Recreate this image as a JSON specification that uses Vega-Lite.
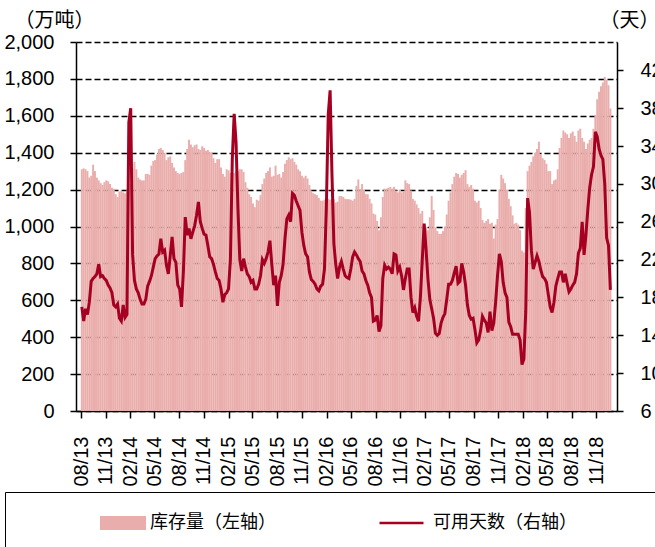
{
 "$schema": "https://vega.github.io/schema/vega-lite/v6.json",
 "width": 541, "height": 369,
 "autosize": {"type": "none"},
 "padding": {"left": 76, "top": 42, "right": 38, "bottom": 136},
 "background": "white",
 "config": {"view": {"stroke": null}, "font": "Liberation Sans"},
 "data": {"values": [
{"date":"2013-08-04","stock":1310,"days":17.0},{"date":"2013-08-11","stock":1315,"days":15.5},{"date":"2013-08-18","stock":1310,"days":16.8},{"date":"2013-08-25","stock":1300,"days":16.2},
{"date":"2013-09-01","stock":1265,"days":17.5},{"date":"2013-09-08","stock":1275,"days":19.7},{"date":"2013-09-15","stock":1335,"days":20.0},{"date":"2013-09-22","stock":1300,"days":20.2},{"date":"2013-09-29","stock":1265,"days":20.5},
{"date":"2013-10-06","stock":1250,"days":21.5},{"date":"2013-10-13","stock":1235,"days":20.2},{"date":"2013-10-20","stock":1225,"days":20.3},{"date":"2013-10-27","stock":1240,"days":20.0},
{"date":"2013-11-03","stock":1250,"days":19.8},{"date":"2013-11-10","stock":1245,"days":19.3},{"date":"2013-11-17","stock":1230,"days":19.0},{"date":"2013-11-24","stock":1210,"days":18.5},
{"date":"2013-12-01","stock":1205,"days":17.2},{"date":"2013-12-08","stock":1175,"days":17.0},{"date":"2013-12-15","stock":1160,"days":17.3},{"date":"2013-12-22","stock":1190,"days":15.8},{"date":"2013-12-29","stock":1195,"days":15.5},
{"date":"2014-01-05","stock":1185,"days":17.2},{"date":"2014-01-12","stock":1180,"days":15.9},{"date":"2014-01-19","stock":1195,"days":16.2},{"date":"2014-01-26","stock":1200,"days":36.5},
{"date":"2014-02-02","stock":1230,"days":38.0},{"date":"2014-02-09","stock":1310,"days":22.5},{"date":"2014-02-16","stock":1350,"days":19.8},{"date":"2014-02-23","stock":1310,"days":18.9},
{"date":"2014-03-02","stock":1265,"days":18.5},{"date":"2014-03-09","stock":1255,"days":17.8},{"date":"2014-03-16","stock":1250,"days":17.3},{"date":"2014-03-23","stock":1250,"days":17.3},{"date":"2014-03-30","stock":1285,"days":17.8},
{"date":"2014-04-06","stock":1285,"days":19.2},{"date":"2014-04-13","stock":1280,"days":19.7},{"date":"2014-04-20","stock":1330,"days":20.3},{"date":"2014-04-27","stock":1355,"days":21.2},
{"date":"2014-05-04","stock":1360,"days":22.1},{"date":"2014-05-11","stock":1390,"days":22.4},{"date":"2014-05-18","stock":1420,"days":22.6},{"date":"2014-05-25","stock":1425,"days":24.2},
{"date":"2014-06-01","stock":1415,"days":22.8},{"date":"2014-06-08","stock":1400,"days":23.0},{"date":"2014-06-15","stock":1360,"days":21.4},{"date":"2014-06-22","stock":1375,"days":20.5},{"date":"2014-06-29","stock":1380,"days":22.4},
{"date":"2014-07-06","stock":1345,"days":24.4},{"date":"2014-07-13","stock":1320,"days":22.1},{"date":"2014-07-20","stock":1300,"days":21.7},{"date":"2014-07-27","stock":1290,"days":19.3},
{"date":"2014-08-03","stock":1285,"days":18.9},{"date":"2014-08-10","stock":1290,"days":17.0},{"date":"2014-08-17","stock":1295,"days":20.7},{"date":"2014-08-24","stock":1360,"days":26.5},{"date":"2014-08-31","stock":1420,"days":24.6},
{"date":"2014-09-07","stock":1470,"days":25.3},{"date":"2014-09-14","stock":1445,"days":24.2},{"date":"2014-09-21","stock":1430,"days":24.9},{"date":"2014-09-28","stock":1440,"days":25.6},
{"date":"2014-10-05","stock":1445,"days":26.7},{"date":"2014-10-12","stock":1420,"days":28.1},{"date":"2014-10-19","stock":1415,"days":26.0},{"date":"2014-10-26","stock":1435,"days":25.3},
{"date":"2014-11-02","stock":1425,"days":24.7},{"date":"2014-11-09","stock":1410,"days":24.6},{"date":"2014-11-16","stock":1415,"days":23.5},{"date":"2014-11-23","stock":1405,"days":22.3},{"date":"2014-11-30","stock":1400,"days":22.1},
{"date":"2014-12-07","stock":1370,"days":21.5},{"date":"2014-12-14","stock":1345,"days":20.7},{"date":"2014-12-21","stock":1365,"days":20.0},{"date":"2014-12-28","stock":1365,"days":19.8},
{"date":"2015-01-04","stock":1320,"days":18.9},{"date":"2015-01-11","stock":1285,"days":17.5},{"date":"2015-01-18","stock":1270,"days":18.3},{"date":"2015-01-25","stock":1310,"days":18.5},
{"date":"2015-02-01","stock":1305,"days":18.9},{"date":"2015-02-08","stock":1290,"days":22.0},{"date":"2015-02-15","stock":1280,"days":32.6},{"date":"2015-02-22","stock":1290,"days":37.4},
{"date":"2015-03-01","stock":1300,"days":34.4},{"date":"2015-03-08","stock":1300,"days":27.4},{"date":"2015-03-15","stock":1310,"days":22.0},{"date":"2015-03-22","stock":1310,"days":20.8},{"date":"2015-03-29","stock":1295,"days":22.1},
{"date":"2015-04-05","stock":1240,"days":21.2},{"date":"2015-04-12","stock":1210,"days":20.5},{"date":"2015-04-19","stock":1175,"days":20.2},{"date":"2015-04-26","stock":1160,"days":19.6},
{"date":"2015-05-03","stock":1125,"days":19.8},{"date":"2015-05-10","stock":1105,"days":18.9},{"date":"2015-05-17","stock":1145,"days":18.9},{"date":"2015-05-24","stock":1140,"days":19.4},{"date":"2015-05-31","stock":1170,"days":20.3},
{"date":"2015-06-07","stock":1230,"days":22.0},{"date":"2015-06-14","stock":1260,"days":21.6},{"date":"2015-06-21","stock":1290,"days":22.1},{"date":"2015-06-28","stock":1300,"days":22.8},
{"date":"2015-07-05","stock":1320,"days":24.0},{"date":"2015-07-12","stock":1270,"days":21.5},{"date":"2015-07-19","stock":1275,"days":19.3},{"date":"2015-07-26","stock":1330,"days":20.3},
{"date":"2015-08-02","stock":1280,"days":17.1},{"date":"2015-08-09","stock":1285,"days":19.6},{"date":"2015-08-16","stock":1265,"days":20.3},{"date":"2015-08-23","stock":1295,"days":21.5},{"date":"2015-08-30","stock":1340,"days":24.2},
{"date":"2015-09-06","stock":1360,"days":26.3},{"date":"2015-09-13","stock":1375,"days":26.7},{"date":"2015-09-20","stock":1365,"days":26.0},{"date":"2015-09-27","stock":1370,"days":29.0},
{"date":"2015-10-04","stock":1350,"days":28.8},{"date":"2015-10-11","stock":1335,"days":28.2},{"date":"2015-10-18","stock":1310,"days":27.7},{"date":"2015-10-25","stock":1300,"days":27.2},
{"date":"2015-11-01","stock":1275,"days":24.9},{"date":"2015-11-08","stock":1265,"days":23.5},{"date":"2015-11-15","stock":1275,"days":22.6},{"date":"2015-11-22","stock":1260,"days":22.3},{"date":"2015-11-29","stock":1225,"days":20.7},
{"date":"2015-12-06","stock":1195,"days":19.9},{"date":"2015-12-13","stock":1180,"days":19.7},{"date":"2015-12-20","stock":1175,"days":19.4},{"date":"2015-12-27","stock":1170,"days":18.9},
{"date":"2016-01-03","stock":1155,"days":18.7},{"date":"2016-01-10","stock":1140,"days":19.2},{"date":"2016-01-17","stock":1140,"days":19.4},{"date":"2016-01-24","stock":1145,"days":21.0},{"date":"2016-01-31","stock":1150,"days":27.4},
{"date":"2016-02-07","stock":1150,"days":37.3},{"date":"2016-02-14","stock":1145,"days":39.9},{"date":"2016-02-21","stock":1150,"days":30.9},{"date":"2016-02-28","stock":1148,"days":23.7},
{"date":"2016-03-06","stock":1130,"days":21.5},{"date":"2016-03-13","stock":1135,"days":20.0},{"date":"2016-03-20","stock":1165,"days":21.2},{"date":"2016-03-27","stock":1165,"days":21.8},
{"date":"2016-04-03","stock":1160,"days":21.0},{"date":"2016-04-10","stock":1150,"days":20.3},{"date":"2016-04-17","stock":1148,"days":20.1},{"date":"2016-04-24","stock":1148,"days":20.0},
{"date":"2016-05-01","stock":1145,"days":21.0},{"date":"2016-05-08","stock":1140,"days":22.3},{"date":"2016-05-15","stock":1150,"days":22.8},{"date":"2016-05-22","stock":1220,"days":22.5},{"date":"2016-05-29","stock":1255,"days":22.1},
{"date":"2016-06-05","stock":1200,"days":21.8},{"date":"2016-06-12","stock":1230,"days":20.8},{"date":"2016-06-19","stock":1200,"days":20.5},{"date":"2016-06-26","stock":1175,"days":19.8},
{"date":"2016-07-03","stock":1175,"days":19.3},{"date":"2016-07-10","stock":1150,"days":18.5},{"date":"2016-07-17","stock":1125,"days":18.0},{"date":"2016-07-24","stock":1070,"days":15.5},{"date":"2016-07-31","stock":1065,"days":15.6},
{"date":"2016-08-07","stock":1030,"days":16.1},{"date":"2016-08-14","stock":980,"days":14.4},{"date":"2016-08-21","stock":1050,"days":15.0},{"date":"2016-08-28","stock":1160,"days":20.0},
{"date":"2016-09-04","stock":1205,"days":21.4},{"date":"2016-09-11","stock":1205,"days":21.0},{"date":"2016-09-18","stock":1210,"days":21.2},{"date":"2016-09-25","stock":1215,"days":21.0},
{"date":"2016-10-02","stock":1205,"days":20.5},{"date":"2016-10-09","stock":1215,"days":22.6},{"date":"2016-10-16","stock":1195,"days":22.5},{"date":"2016-10-23","stock":1185,"days":20.8},{"date":"2016-10-30","stock":1200,"days":21.2},
{"date":"2016-11-06","stock":1185,"days":20.3},{"date":"2016-11-13","stock":1190,"days":18.8},{"date":"2016-11-20","stock":1250,"days":20.0},{"date":"2016-11-27","stock":1235,"days":21.0},
{"date":"2016-12-04","stock":1230,"days":21.0},{"date":"2016-12-11","stock":1195,"days":18.0},{"date":"2016-12-18","stock":1150,"days":16.4},{"date":"2016-12-25","stock":1140,"days":16.9},
{"date":"2017-01-01","stock":1120,"days":16.0},{"date":"2017-01-08","stock":1100,"days":15.5},{"date":"2017-01-15","stock":1070,"days":18.0},{"date":"2017-01-22","stock":1085,"days":22.0},{"date":"2017-01-29","stock":1000,"days":25.8},
{"date":"2017-02-05","stock":995,"days":23.1},{"date":"2017-02-12","stock":980,"days":20.0},{"date":"2017-02-19","stock":1050,"days":17.8},{"date":"2017-02-26","stock":1165,"days":16.8},
{"date":"2017-03-05","stock":1090,"days":15.8},{"date":"2017-03-12","stock":995,"days":14.2},{"date":"2017-03-19","stock":975,"days":14.0},{"date":"2017-03-26","stock":960,"days":14.2},
{"date":"2017-04-02","stock":960,"days":15.3},{"date":"2017-04-09","stock":975,"days":15.9},{"date":"2017-04-16","stock":1000,"days":16.3},{"date":"2017-04-23","stock":1065,"days":17.8},{"date":"2017-04-30","stock":1140,"days":19.4},
{"date":"2017-05-07","stock":1185,"days":19.4},{"date":"2017-05-14","stock":1230,"days":19.8},{"date":"2017-05-21","stock":1270,"days":20.6},{"date":"2017-05-28","stock":1290,"days":21.3},
{"date":"2017-06-04","stock":1285,"days":19.5},{"date":"2017-06-11","stock":1265,"days":19.7},{"date":"2017-06-18","stock":1280,"days":21.6},{"date":"2017-06-25","stock":1290,"days":20.7},
{"date":"2017-07-02","stock":1305,"days":19.3},{"date":"2017-07-09","stock":1230,"days":17.2},{"date":"2017-07-16","stock":1215,"days":16.1},{"date":"2017-07-23","stock":1225,"days":15.7},{"date":"2017-07-30","stock":1205,"days":15.8},
{"date":"2017-08-06","stock":1140,"days":14.6},{"date":"2017-08-13","stock":1130,"days":13.2},{"date":"2017-08-20","stock":1140,"days":13.5},{"date":"2017-08-27","stock":1100,"days":14.5},
{"date":"2017-09-03","stock":1035,"days":16.0},{"date":"2017-09-10","stock":1020,"days":15.6},{"date":"2017-09-17","stock":1030,"days":15.3},{"date":"2017-09-24","stock":1040,"days":14.3},
{"date":"2017-10-01","stock":1015,"days":16.5},{"date":"2017-10-08","stock":1020,"days":14.5},{"date":"2017-10-15","stock":935,"days":15.3},{"date":"2017-10-22","stock":1010,"days":17.5},{"date":"2017-10-29","stock":1040,"days":20.3},
{"date":"2017-11-05","stock":1200,"days":22.6},{"date":"2017-11-12","stock":1280,"days":21.8},{"date":"2017-11-19","stock":1260,"days":19.6},{"date":"2017-11-26","stock":1235,"days":18.5},
{"date":"2017-12-03","stock":1200,"days":18.0},{"date":"2017-12-10","stock":1150,"days":15.4},{"date":"2017-12-17","stock":1110,"days":14.9},{"date":"2017-12-24","stock":1060,"days":14.1},{"date":"2017-12-31","stock":1015,"days":14.1},
{"date":"2018-01-07","stock":1020,"days":14.1},{"date":"2018-01-14","stock":1010,"days":14.1},{"date":"2018-01-21","stock":980,"days":13.5},{"date":"2018-01-28","stock":870,"days":10.9},
{"date":"2018-02-04","stock":860,"days":11.5},{"date":"2018-02-11","stock":1100,"days":16.5},{"date":"2018-02-18","stock":1300,"days":28.5},{"date":"2018-02-25","stock":1330,"days":27.0},
{"date":"2018-03-04","stock":1350,"days":23.0},{"date":"2018-03-11","stock":1380,"days":21.0},{"date":"2018-03-18","stock":1400,"days":21.7},{"date":"2018-03-25","stock":1420,"days":22.4},
{"date":"2018-04-01","stock":1460,"days":21.8},{"date":"2018-04-08","stock":1390,"days":20.9},{"date":"2018-04-15","stock":1370,"days":20.2},{"date":"2018-04-22","stock":1360,"days":20.0},{"date":"2018-04-29","stock":1340,"days":19.6},
{"date":"2018-05-06","stock":1300,"days":18.3},{"date":"2018-05-13","stock":1300,"days":17.0},{"date":"2018-05-20","stock":1230,"days":16.4},{"date":"2018-05-27","stock":1250,"days":17.5},
{"date":"2018-06-03","stock":1255,"days":19.2},{"date":"2018-06-10","stock":1310,"days":20.0},{"date":"2018-06-17","stock":1425,"days":20.7},{"date":"2018-06-24","stock":1480,"days":20.7},
{"date":"2018-07-01","stock":1520,"days":19.6},{"date":"2018-07-08","stock":1510,"days":20.5},{"date":"2018-07-15","stock":1500,"days":19.5},{"date":"2018-07-22","stock":1480,"days":18.6},{"date":"2018-07-29","stock":1505,"days":18.9},
{"date":"2018-08-05","stock":1515,"days":19.3},{"date":"2018-08-12","stock":1490,"days":19.6},{"date":"2018-08-19","stock":1460,"days":20.5},{"date":"2018-08-26","stock":1520,"days":22.7},
{"date":"2018-09-02","stock":1530,"days":23.2},{"date":"2018-09-09","stock":1480,"days":26.0},{"date":"2018-09-16","stock":1460,"days":22.5},{"date":"2018-09-23","stock":1420,"days":24.6},{"date":"2018-09-30","stock":1450,"days":27.3},
{"date":"2018-10-07","stock":1470,"days":29.6},{"date":"2018-10-14","stock":1480,"days":31.0},{"date":"2018-10-21","stock":1530,"days":31.8},{"date":"2018-10-28","stock":1605,"days":35.5},
{"date":"2018-11-04","stock":1690,"days":35.0},{"date":"2018-11-11","stock":1730,"days":33.7},{"date":"2018-11-18","stock":1760,"days":33.0},{"date":"2018-11-25","stock":1780,"days":32.6},
{"date":"2018-12-02","stock":1810,"days":30.0},{"date":"2018-12-09","stock":1795,"days":24.3},{"date":"2018-12-16","stock":1765,"days":23.5},{"date":"2018-12-23","stock":1640,"days":18.8}
 ]},
 "layer": [
  {
   "mark": {"type": "bar", "width": 1.95},
   "encoding": {
    "x": {
     "field": "date", "type": "temporal",
     "scale": {"type": "utc", "domain": [{"year": 2013, "month": 8, "date": 1, "utc": true}, {"year": 2018, "month": 12, "date": 29, "utc": true}]},
     "axis": {
      "title": null,
      "tickCount": 40,
      "values": [
       {"year":2013,"month":8,"date":1,"utc":true},{"year":2013,"month":11,"date":1,"utc":true},
       {"year":2014,"month":2,"date":1,"utc":true},{"year":2014,"month":5,"date":1,"utc":true},{"year":2014,"month":8,"date":1,"utc":true},{"year":2014,"month":11,"date":1,"utc":true},
       {"year":2015,"month":2,"date":1,"utc":true},{"year":2015,"month":5,"date":1,"utc":true},{"year":2015,"month":8,"date":1,"utc":true},{"year":2015,"month":11,"date":1,"utc":true},
       {"year":2016,"month":2,"date":1,"utc":true},{"year":2016,"month":5,"date":1,"utc":true},{"year":2016,"month":8,"date":1,"utc":true},{"year":2016,"month":11,"date":1,"utc":true},
       {"year":2017,"month":2,"date":1,"utc":true},{"year":2017,"month":5,"date":1,"utc":true},{"year":2017,"month":8,"date":1,"utc":true},{"year":2017,"month":11,"date":1,"utc":true},
       {"year":2018,"month":2,"date":1,"utc":true},{"year":2018,"month":5,"date":1,"utc":true},{"year":2018,"month":8,"date":1,"utc":true},{"year":2018,"month":11,"date":1,"utc":true}
      ],
      "format": "%m/%y",
      "labelAngle": -90,
      "labelFont": "Liberation Sans",
      "labelFontSize": 20,
      "labelColor": "black",
      "labelPadding": 18,
      "labelOverlap": false,
      "labelFlush": false,
      "tickSize": 7,
      "tickColor": "black",
      "tickWidth": 1.5,
      "domainColor": "black",
      "domainWidth": 1.5,
      "grid": false
     }
    },
    "y": {
     "field": "stock", "type": "quantitative",
     "scale": {"domain": [0, 2000], "nice": false},
     "axis": {
      "values": [0,200,400,600,800,1000,1200,1400,1600,1800,2000],
      "format": ",d",
      "labelFont": "Liberation Sans",
      "labelFontSize": 20,
      "labelColor": "black",
      "labelPadding": 16,
      "labelOverlap": false,
      "tickSize": 6,
      "tickColor": "black",
      "tickWidth": 1.5,
      "domainColor": "black",
      "domainWidth": 1.5,
      "grid": true,
      "gridColor": "black",
      "gridDash": [6, 3],
      "gridWidth": 1.5,
      "title": "（万吨）",
      "titleAngle": 0,
      "titleX": -62,
      "titleY": -22,
      "titleAlign": "left",
      "titleBaseline": "middle",
      "titleFont": "Noto Sans CJK SC",
      "titleFontSize": 20,
      "titleFontWeight": "normal",
      "titleColor": "black"
     }
    },
    "fill": {
     "datum": "库存量（左轴）",
     "scale": {"range": ["#e9adab"]},
     "legend": {
      "orient": "none",
      "legendX": 24,
      "legendY": 474,
      "title": null,
      "padding": 0,
      "symbolType": "M-1,-0.3H1V0.3H-1Z",
      "symbolSize": 2116,
      "symbolStrokeWidth": 0,
      "clipHeight": 14,
      "labelOffset": 4,
      "labelFont": "Noto Sans CJK SC",
      "labelFontSize": 18,
      "labelColor": "black",
      "labelLimit": 1000
     }
    }
   }
  },
  {
   "mark": {"type": "line", "strokeWidth": 3},
   "encoding": {
    "x": {"field": "date", "type": "temporal"},
    "y": {
     "field": "days", "type": "quantitative",
     "scale": {"domain": [6, 45], "nice": false, "zero": false},
     "axis": {
      "orient": "right",
      "values": [6,10,14,18,22,26,30,34,38,42],
      "labelFont": "Liberation Sans",
      "labelFontSize": 20,
      "labelColor": "black",
      "labelPadding": 17,
      "labelOverlap": false,
      "tickSize": 6,
      "tickColor": "black",
      "tickWidth": 1.5,
      "domainColor": "black",
      "domainWidth": 1.5,
      "grid": false,
      "title": "（天）",
      "titleAngle": 0,
      "titleX": -18,
      "titleY": -22,
      "titleAlign": "left",
      "titleBaseline": "middle",
      "titleFont": "Noto Sans CJK SC",
      "titleFontSize": 20,
      "titleFontWeight": "normal",
      "titleColor": "black"
     }
    },
    "stroke": {
     "datum": "可用天数（右轴）",
     "scale": {"range": ["#a50021"]},
     "legend": {
      "orient": "none",
      "legendX": -71,
      "legendY": 450,
      "title": null,
      "padding": 24,
      "strokeColor": "black",
      "symbolType": "stroke",
      "symbolSize": 1936,
      "symbolStrokeWidth": 2.5,
      "symbolOffset": 349,
      "clipHeight": 14,
      "labelOffset": 8,
      "labelFont": "Noto Sans CJK SC",
      "labelFontSize": 18,
      "labelColor": "black",
      "labelLimit": 2000,
      "labelExpr": "datum.label + '\u2800\u2800\u2800\u2800\u2800\u2800\u2800\u2800\u2800\u2800\u2800\u2800\u2800\u2800\u2800\u2800'"
     }
    }
   }
  }
 ],
 "resolve": {"scale": {"y": "independent"}}
}
